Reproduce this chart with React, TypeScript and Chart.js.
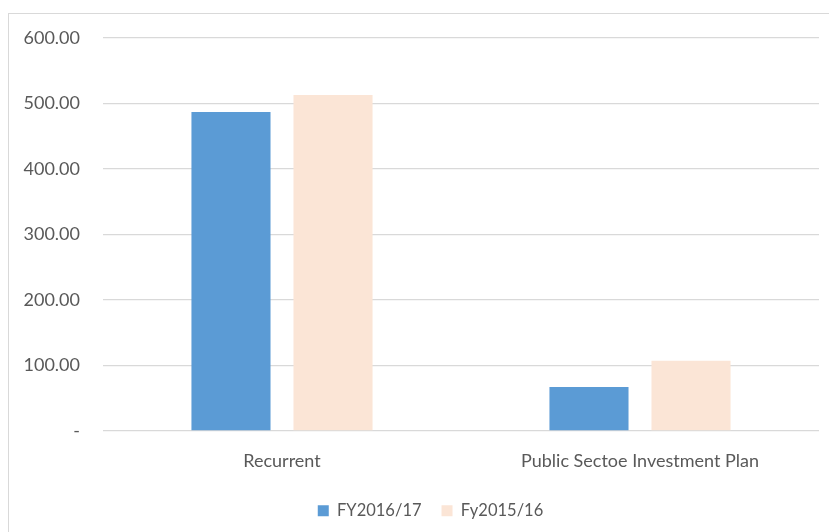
import React, { useEffect, useRef } from "react";
import { Chart, registerables } from "chart.js";

Chart.register(...registerables);

const categories = ["Recurrent", "Public Sectoe Investment Plan"];
const fy2016_17 = [487, 67];
const fy2015_16 = [513, 107];
const seriesNames = ["FY2016/17", "Fy2015/16"];
const seriesColors = ["#5B9BD5", "#FBE5D6"];
const yTicks = [0, 100, 200, 300, 400, 500, 600];

const FONT = "Lato, 'Open Sans', sans-serif";
const TEXT = "#595959";

// nudges the bottom legend so it sits centred under the framed area
const legendShift = {
  id: "legendShift",
  afterLayout(chart: any) {
    if (chart.legend) {
      chart.legend.left += 21;
      chart.legend.right += 21;
    }
  },
};

export default function App() {
  const ref = useRef<HTMLCanvasElement | null>(null);

  useEffect(() => {
    document.body.style.margin = "0";
    const ctx = ref.current!.getContext("2d")!;
    const chart = new Chart(ctx, {
      type: "bar",
      data: {
        labels: categories,
        datasets: [
          {
            label: seriesNames[0],
            data: fy2016_17,
            backgroundColor: seriesColors[0],
          },
          {
            label: seriesNames[1],
            data: fy2015_16,
            backgroundColor: seriesColors[1],
          },
        ],
      },
      plugins: [legendShift],
      options: {
        responsive: false,
        animation: false,
        layout: { padding: { top: 38, right: 10, left: 0, bottom: 3 } },
        datasets: {
          bar: { categoryPercentage: 0.57, barPercentage: 0.775 },
        },
        plugins: {
          tooltip: { enabled: false },
          legend: {
            position: "bottom",
            labels: {
              boxWidth: 11,
              boxHeight: 11,
              padding: 20,
              color: TEXT,
              font: { family: FONT, size: 16.5 },
            },
          },
        },
        scales: {
          x: {
            grid: { display: false },
            border: { display: false },
            ticks: {
              color: TEXT,
              font: { family: FONT, size: 18 },
              padding: 11,
            },
          },
          y: {
            min: 0,
            max: 600,
            afterBuildTicks: (axis: any) => {
              axis.ticks = yTicks.map((v) => ({ value: v }));
            },
            afterFit: (axis: any) => {
              axis.width = 103;
            },
            grid: { color: "#D9D9D9", lineWidth: 1.3, drawTicks: false },
            border: { display: false },
            ticks: {
              color: TEXT,
              font: { family: FONT, size: 18 },
              padding: 23,
              callback: (v: any) =>
                Number(v) === 0 ? "-" : Number(v).toFixed(2),
            },
          },
        },
      },
    });
    return () => chart.destroy();
  }, []);

  return (
    <div style={{ position: "relative", width: 829, height: 532, background: "#fff", overflow: "hidden" }}>
      <div
        style={{
          position: "absolute",
          left: 8,
          top: 13,
          width: 900,
          height: 600,
          borderTop: "1.5px solid #D9D9D9",
          borderLeft: "1.5px solid #D9D9D9",
        }}
      />
      <canvas ref={ref} width={829} height={532} style={{ position: "absolute", left: 0, top: 0 }} />
    </div>
  );
}
